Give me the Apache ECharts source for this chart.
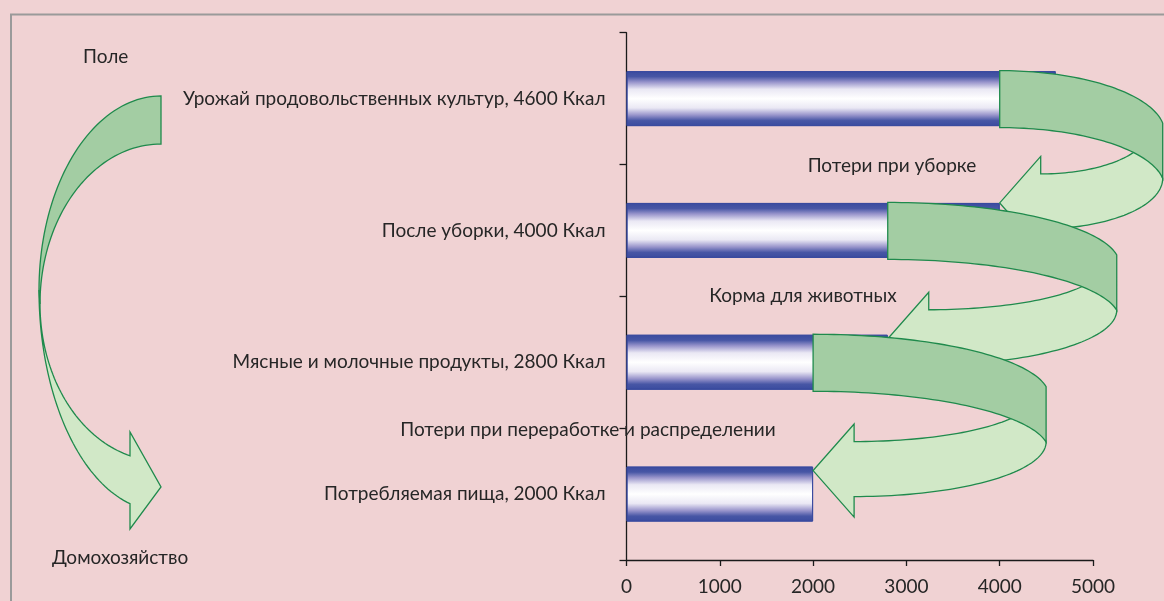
<!DOCTYPE html>
<html><head><meta charset="utf-8">
<script src="https://cdn.jsdelivr.net/npm/echarts@6/dist/echarts.min.js"></script>
<style>html,body{margin:0;padding:0;background:#f0d2d3;} #c{width:1164px;height:601px;}</style>
</head><body><div id="c"></div>
<script>
// ---- data ----
const categories = ['Урожай продовольственных культур, 4600 Ккал', 'После уборки, 4000 Ккал', 'Мясные и молочные продукты, 2800 Ккал', 'Потребляемая пища, 2000 Ккал'];
const values = [4600, 4000, 2800, 2000];
const xTickMin = 0, xTickMax = 5000, xTickStep = 1000;
const lossLabels = ['Потери при уборке', 'Корма для животных', 'Потери при переработке и распределении'];
const topLabel = 'Поле';
const bottomLabel = 'Домохозяйство';

// ---- style / decoration settings ----
const FONT = 'Lato, "Open Sans", sans-serif';
const FS = 19;
const TXT = '#262626';
const DARK = '#a3cda3', LIGHT = '#d1e8c7', STROKE = '#1f8a4c';
const arrowWidths = [163, 229, 233];   // horizontal reach of each curved loss arrow (px)

const chart = echarts.init(document.getElementById('c'), null, {renderer: 'canvas'});
const barBlue = '#3a4b9f';
chart.setOption({
  backgroundColor: '#f0d2d3',
  animation: false,
  grid: {left: 626.5, right: 71, top: 32.7, bottom: 41, containLabel: false},
  xAxis: {
    type: 'value', min: xTickMin, max: xTickMax, interval: xTickStep,
    axisLine: {show: true, lineStyle: {color: '#1a1a1a', width: 1.3}},
    axisTick: {show: true, length: 6, lineStyle: {color: '#1a1a1a', width: 1.3}},
    splitLine: {show: false},
    axisLabel: {color: TXT, fontSize: FS, fontFamily: FONT, margin: 17, formatter: v => String(v)}
  },
  yAxis: {
    type: 'category', data: categories, inverse: true,
    axisLine: {show: true, lineStyle: {color: '#1a1a1a', width: 1.3}},
    axisTick: {show: true, length: 7, lineStyle: {color: '#1a1a1a', width: 1.3}},
    axisLabel: {color: TXT, fontSize: FS, fontFamily: FONT, margin: 21}
  },
  series: [{
    type: 'bar', data: values, barWidth: 55,
    itemStyle: {
      borderColor: barBlue, borderWidth: 1,
      color: new echarts.graphic.LinearGradient(0, 0, 0, 1, [
        {offset: 0, color: barBlue},
        {offset: 0.1, color: '#4756a5'},
        {offset: 0.2, color: '#9894cb'},
        {offset: 0.33, color: '#eae8f4'},
        {offset: 0.5, color: '#ffffff'},
        {offset: 0.67, color: '#eae8f4'},
        {offset: 0.8, color: '#9894cb'},
        {offset: 0.9, color: '#4756a5'},
        {offset: 1, color: barBlue}
      ])
    }
  }]
});

function arc(cx, cy, rx, ry, t0, t1, n) {
  n = n || 48;
  const pts = [];
  for (let i = 0; i <= n; i++) {
    const t = (t0 + (t1 - t0) * i / n) * Math.PI / 180;
    pts.push([cx + rx * Math.cos(t), cy + ry * Math.sin(t)]);
  }
  return pts;
}
const deg = r => r * 180 / Math.PI;

const g = [];
// frame
g.push({type: 'rect', shape: {x: 11, y: 14.5, width: 1180, height: 620}, style: {fill: 'none', stroke: '#9a9a9a', lineWidth: 2}, z: 1, silent: true});

// left curved arrow (field -> household)
{
  const dark = arc(161, 290, 122, 194, 270, 180).concat(arc(161, 304, 121, 160, 180, 270));
  g.push({type: 'polygon', shape: {points: dark}, style: {fill: DARK, stroke: STROKE, lineWidth: 1.3}, z: 100});
  const tOut = 180 - deg(Math.acos(31 / 122));
  const tIn = 180 - deg(Math.acos(31 / 121));
  const light = arc(161, 290, 122, 221, 180, tOut)
    .concat([[130, 529], [161, 487], [130, 432]])
    .concat(arc(161, 304, 121, 157, tIn, 180));
  g.push({type: 'polygon', shape: {points: light}, style: {fill: LIGHT, stroke: STROKE, lineWidth: 1.3}, z: 101});
}

// loss arrows between bars
const barH = 55;
for (let i = 0; i < values.length - 1; i++) {
  const L = chart.convertToPixel({xAxisIndex: 0}, values[i + 1]);
  const T = chart.convertToPixel({yAxisIndex: 0}, i) - barH / 2 - 0.5;
  const nextTop = chart.convertToPixel({yAxisIndex: 0}, i + 1) - barH / 2;
  const w = arrowWidths[i];
  const R = L + w;
  const rx = w * 1.012;
  const th = 57;
  const tR = 360 - deg(Math.acos(w / rx));
  const topArc = arc(L, T + 62, rx, 62, 270, tR);
  const botArc = arc(L, T + th + 60, rx, 60, tR, 270);
  const yRbot = botArc[0][1];
  const tipY = nextTop + (i === 0 ? 0 : 4);
  const hx = L + 41;
  const shaftTop = tipY - 29;
  const shaftBot = shaftTop + 55;
  const oRx = R - hx;
  const light = arc(hx, yRbot, oRx, shaftBot - yRbot, 0, 90)
    .concat([[hx, tipY + 46.5], [L, tipY], [hx, tipY - 46.5]])
    .concat(arc(hx, shaftTop - 44, oRx - 14, 44, 90, 0));
  g.push({type: 'polygon', shape: {points: light}, style: {fill: LIGHT, stroke: STROKE, lineWidth: 1.3}, z: 110 + i * 2});
  g.push({type: 'polygon', shape: {points: topArc.concat(botArc)}, style: {fill: DARK, stroke: STROKE, lineWidth: 1.3}, z: 111 + i * 2});
}

// texts
function txt(s, x, y, align) {
  g.push({type: 'text', z: 200, silent: true,
    style: {text: s, x: x, y: y, fill: TXT, font: FS + 'px ' + FONT, textAlign: align || 'left', textVerticalAlign: 'middle', verticalAlign: 'middle'}});
}
txt(topLabel, 83, 57);
txt(bottomLabel, 52, 558);
txt(lossLabels[0], 892, 166, 'center');
txt(lossLabels[1], 803, 296, 'center');
txt(lossLabels[2], 588, 430, 'center');

chart.setOption({graphic: {elements: g}});
</script>
</body></html>
